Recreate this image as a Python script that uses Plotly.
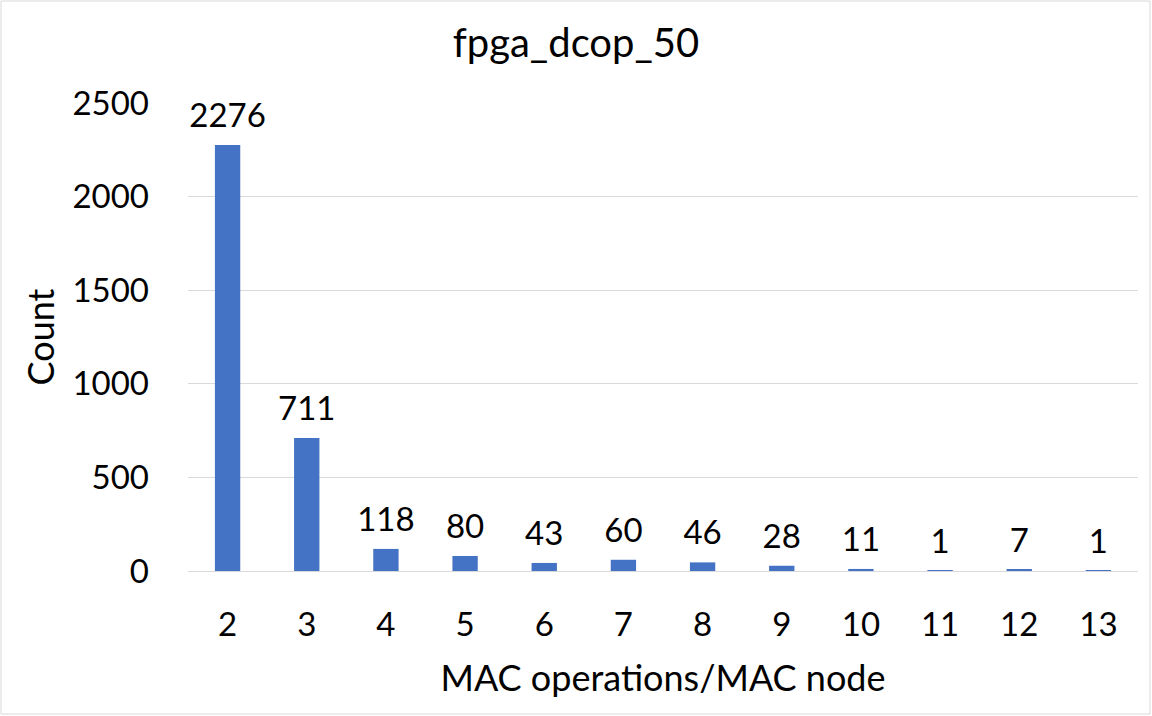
import plotly.graph_objects as go

categories = ["2", "3", "4", "5", "6", "7", "8", "9", "10", "11", "12", "13"]
counts = [2276, 711, 118, 80, 43, 60, 46, 28, 11, 1, 7, 1]
title_text = "fpga_dcop_50"
x_title = "MAC operations/MAC node"
y_title = "Count"

FONT = "Lato"
L, R, T, B = 188, 14, 103, 145
W, H = 1152, 716
pw, ph = W - L - R, H - T - B
FS = 33

fig = go.Figure()
fig.add_trace(go.Bar(
    x=categories, y=counts,
    marker=dict(color="#4472C4", line=dict(width=0)),
    width=0.32,
    cliponaxis=False,
    hoverinfo="x+y",
))
# data labels: text-only scatter, invisible marker used to lift the text above bars
fig.add_trace(go.Scatter(
    x=categories, y=counts,
    mode="markers+text",
    text=[str(v) for v in counts],
    textposition="top center",
    textfont=dict(family=FONT, size=FS, color="#000000"),
    marker=dict(size=14, opacity=0),
    cliponaxis=False,
    hoverinfo="skip",
))

fig.update_layout(
    width=W, height=H,
    margin=dict(l=L, r=R, t=T, b=B),
    paper_bgcolor="white", plot_bgcolor="white",
    showlegend=False,
    title=dict(text=title_text, x=0.5, xref="container",
               y=1 - 43 / H, yref="container", yanchor="middle", xanchor="center",
               font=dict(family=FONT, size=40, color="#000000")),
    font=dict(family=FONT, color="#000000"),
)
fig.update_xaxes(
    type="category",
    range=[-0.5, len(categories) - 0.5],
    tickfont=dict(family=FONT, size=FS, color="#000000"),
    showgrid=False, showline=True, linecolor="#d9d9d9", linewidth=1,
    ticks="", ticklabelstandoff=24,
    title=dict(text=x_title, font=dict(family=FONT, size=36, color="#000000"), standoff=24),
)
fig.update_yaxes(
    range=[0, 2500], dtick=500,
    tickfont=dict(family=FONT, size=FS, color="#000000"),
    showgrid=True, gridcolor="#d9d9d9", gridwidth=1,
    zeroline=False, showline=False, ticks="", ticklabelstandoff=38,
    title=dict(text=y_title, font=dict(family=FONT, size=36, color="#000000"), standoff=6),
)

# outer chart border
fig.add_shape(type="rect", xref="paper", yref="paper",
              x0=(1 - L) / pw, x1=(W - 2 - L) / pw,
              y0=(H - B - (H - 2)) / ph, y1=(H - B - 1) / ph,
              line=dict(color="#d9d9d9", width=1), fillcolor="rgba(0,0,0,0)",
              layer="below")

fig.write_html("out.html")
